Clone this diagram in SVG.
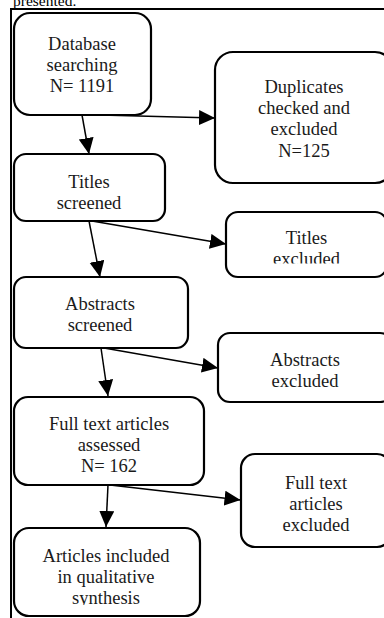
<svg xmlns="http://www.w3.org/2000/svg" width="384" height="618" viewBox="0 0 384 618">
<style>
.box{fill:#fff;stroke:#000;stroke-width:2.2}
.t{font-size:18.5px;fill:#1a1a1a;text-anchor:middle}
.c{stroke:#000;stroke-width:1.5;fill:none}
.frame{stroke:#000;stroke-width:2;fill:none}
</style>
<defs>
<marker id="ah" markerUnits="userSpaceOnUse" markerWidth="17" markerHeight="16" refX="16" refY="7.5" orient="auto">
<path d="M0,0 L16,7.5 L0,15 z" fill="#000"/>
</marker>
<clipPath id="clipB4"><rect x="226" y="212" width="170" height="51.5"/></clipPath>
<clipPath id="clipB9"><rect x="14" y="528" width="190" height="77"/></clipPath>
</defs>
<rect width="384" height="618" fill="#fff"/>
<g font-family="Liberation Serif, Tinos, Times New Roman, DejaVu Serif, serif">
<text x="13" y="6" font-size="15.5" fill="#000">presented.</text>
<path class="frame" d="M11,618 L11,9 L384,9"/>
<g id="connectors">
<line class="c" x1="82" y1="115" x2="89" y2="154" marker-end="url(#ah)"/>
<line class="c" x1="100" y1="115" x2="215" y2="118" marker-end="url(#ah)"/>
<line class="c" x1="89" y1="221" x2="100" y2="277" marker-end="url(#ah)"/>
<line class="c" x1="92" y1="221" x2="226" y2="244" marker-end="url(#ah)"/>
<line class="c" x1="101" y1="348" x2="108" y2="396" marker-end="url(#ah)"/>
<line class="c" x1="104" y1="348" x2="218" y2="368" marker-end="url(#ah)"/>
<line class="c" x1="108" y1="485" x2="106" y2="527" marker-end="url(#ah)"/>
<line class="c" x1="110" y1="485" x2="240.5" y2="500" marker-end="url(#ah)"/>
</g>
<g id="n1">
<rect class="box" x="14" y="13" width="137" height="102" rx="16"/>
<text class="t" x="82" y="50">Database</text>
<text class="t" x="82" y="71">searching</text>
<text class="t" x="82" y="92">N= 1191</text>
</g>
<g id="n2">
<rect class="box" x="215" y="52" width="178" height="131" rx="18"/>
<text class="t" x="304" y="93">Duplicates</text>
<text class="t" x="304" y="114">checked and</text>
<text class="t" x="304" y="135">excluded</text>
<text class="t" x="304" y="156.5">N=125</text>
</g>
<g id="n3">
<rect class="box" x="14" y="154" width="151" height="67" rx="12"/>
<text class="t" x="89" y="187.5">Titles</text>
<text class="t" x="89" y="208.5">screened</text>
</g>
<g id="n4">
<rect class="box" x="226" y="212" width="161" height="65" rx="12"/>
<g clip-path="url(#clipB4)">
<text class="t" x="306.5" y="243.5">Titles</text>
<text class="t" x="306.5" y="264.5">excluded</text>
</g>
</g>
<g id="n5">
<rect class="box" x="14" y="277" width="174" height="71" rx="12"/>
<text class="t" x="100" y="310">Abstracts</text>
<text class="t" x="100" y="331">screened</text>
</g>
<g id="n6">
<rect class="box" x="218" y="333" width="174" height="69" rx="12"/>
<text class="t" x="305" y="366">Abstracts</text>
<text class="t" x="305" y="387">excluded</text>
</g>
<g id="n7">
<rect class="box" x="14" y="397" width="190" height="88" rx="14"/>
<text class="t" x="109" y="430">Full text articles</text>
<text class="t" x="109" y="451">assessed</text>
<text class="t" x="109" y="472">N= 162</text>
</g>
<g id="n8">
<rect class="box" x="241" y="454" width="150" height="93" rx="14"/>
<text class="t" x="316" y="488.5">Full text</text>
<text class="t" x="316" y="509.5">articles</text>
<text class="t" x="316" y="530.5">excluded</text>
</g>
<g id="n9">
<rect class="box" x="14" y="528" width="186" height="88" rx="15"/>
<g clip-path="url(#clipB9)">
<text class="t" x="106" y="562">Articles included</text>
<text class="t" x="106" y="583">in qualitative</text>
<text class="t" x="106" y="604">synthesis</text>
</g>
</g>
</g>
</svg>
